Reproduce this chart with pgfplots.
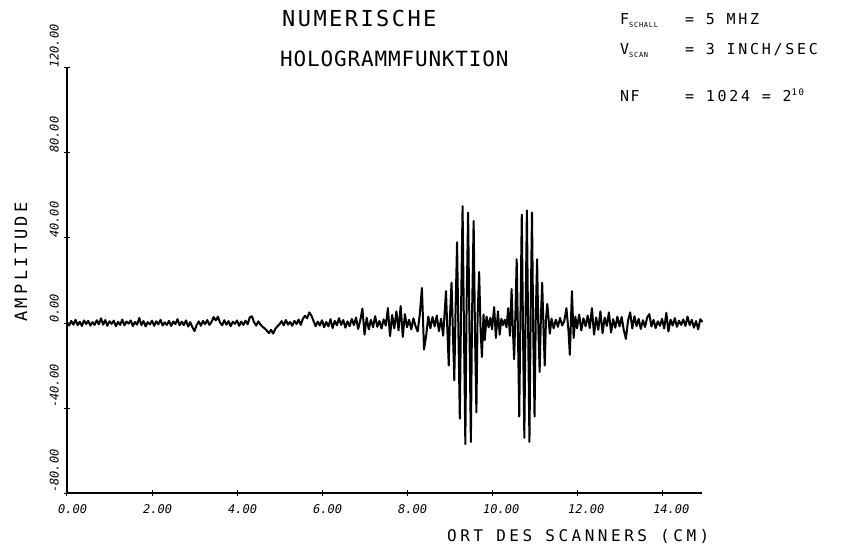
\documentclass[border=0pt]{standalone}
\usepackage{pgfplots}
\pgfplotsset{compat=1.18}
\usepackage{fontspec}
\setmainfont{DejaVu Sans Mono}
\newcommand{\fs}[1]{\fontsize{#1}{#1}\selectfont}
\newcommand{\ls}[1]{\addfontfeature{LetterSpace=#1}}
\begin{document}
\begin{tikzpicture}[x=1pt,y=1pt]
\path[use as bounding box] (0,0) rectangle (855,547);
\begin{axis}[
  at={(67pt,54pt)}, anchor=south west,
  width=635pt, height=425pt, scale only axis,
  xmin=0, xmax=14.94, ymin=-80, ymax=120,
  axis lines=left, axis line style={-, line width=1.4pt},
  xtick={0,2,...,14}, xticklabels={0.00,2.00,4.00,6.00,8.00,10.00,12.00,14.00},
  ytick={-80,-40,0,40,80,120}, yticklabels={-80.00,-40.00,0.00,40.00,80.00,120.00},
  tick align=center, tick style={line width=1pt, black}, major tick length=6pt,
  xticklabel style={font=\fs{12}\itshape, anchor=north west, xshift=-9pt, yshift=-8pt, inner sep=0pt},
  yticklabel style={font=\fs{12}\itshape, rotate=90, anchor=south west, inner sep=0pt},
  yticklabel shift=5pt,
  clip=false,
]
\addplot[line width=2pt, black, line join=round] coordinates {
(0.00,0.5)(0.05,-1.2)(0.10,1.0)(0.15,-0.8)(0.20,1.5)(0.25,-1.0)(0.30,0.6)(0.35,-1.4)(0.40,1.2)(0.45,-0.5)
(0.50,1.0)(0.55,-1.2)(0.60,0.4)(0.65,-0.9)(0.70,1.3)(0.75,-0.6)(0.80,2.2)(0.85,-0.8)(0.90,1.4)(0.95,-1.3)
(1.00,0.8)(1.05,-0.4)(1.10,1.1)(1.15,-1.5)(1.20,0.6)(1.25,-0.9)(1.30,1.6)(1.35,-1.1)(1.40,0.7)(1.45,-0.3)
(1.50,1.2)(1.55,-1.4)(1.60,0.5)(1.65,-0.8)(1.70,2.4)(1.75,-1.0)(1.80,0.9)(1.85,-1.6)(1.90,0.4)(1.95,-0.7)
(2.00,1.1)(2.05,-1.3)(2.10,0.8)(2.15,-0.6)(2.20,1.5)(2.25,-1.2)(2.30,0.3)(2.35,-0.9)(2.40,1.0)(2.45,-1.4)
(2.50,0.7)(2.55,-0.5)(2.60,1.8)(2.65,-1.1)(2.70,0.6)(2.75,-1.0)(2.80,1.2)(2.85,-1.7)(2.90,0.4)(2.95,-2.0)
(3.00,-3.8)(3.05,-1.0)(3.10,0.8)(3.15,-1.3)(3.20,1.0)(3.25,-0.6)(3.30,1.4)(3.35,-0.9)(3.40,0.5)(3.45,2.8)
(3.50,1.2)(3.55,3.0)(3.60,0.2)(3.65,-1.1)(3.70,1.3)(3.75,-0.8)(3.80,0.9)(3.85,-1.5)(3.90,0.6)(3.95,-0.4)
(4.00,1.2)(4.05,-1.3)(4.10,0.7)(4.15,-0.9)(4.20,1.1)(4.25,-0.6)(4.30,2.6)(4.35,3.2)(4.40,0.4)(4.45,-1.2)
(4.50,0.8)(4.55,-0.7)(4.60,-1.8)(4.65,-2.5)(4.70,-3.6)(4.75,-4.8)(4.80,-3.2)(4.85,-5.0)(4.90,-2.8)(4.95,-1.5)
(5.00,-0.6)(5.05,0.9)(5.10,-1.1)(5.15,1.4)(5.20,-0.8)(5.25,0.5)(5.30,-1.3)(5.35,1.0)(5.40,-0.5)(5.45,1.6)
(5.50,-0.9)(5.55,2.0)(5.60,3.4)(5.65,2.2)(5.70,5.0)(5.75,3.5)(5.80,1.0)(5.85,-1.5)(5.90,0.7)(5.95,-1.2)
(6.00,1.3)(6.05,-2.0)(6.10,0.5)(6.15,-1.6)(6.20,1.8)(6.25,-2.4)(6.30,1.0)(6.35,-1.1)(6.40,2.3)(6.45,-0.9)
(6.50,1.4)(6.55,-2.2)(6.60,0.8)(6.65,-1.5)(6.70,1.9)(6.75,-1.0)(6.80,2.6)(6.85,-2.8)(6.90,1.2)(6.95,6.8)
(7.00,-5.5)(7.05,2.5)(7.10,-3.0)(7.15,1.5)(7.20,-2.0)(7.25,3.2)(7.30,-1.8)(7.35,1.0)(7.40,-2.6)(7.45,1.7)
(7.50,-1.2)(7.55,7.0)(7.60,-6.2)(7.65,3.8)(7.70,-2.5)(7.75,5.5)(7.80,-3.5)(7.85,8.0)(7.90,-6.5)(7.95,4.2)
(8.00,-2.0)(8.05,1.5)(8.10,-3.0)(8.15,2.2)(8.20,-1.5)(8.25,-4.0)(8.30,4.0)(8.35,16.5)(8.40,-12.5)(8.45,-6.0)
(8.50,3.0)(8.55,-2.5)(8.60,2.8)(8.65,-1.6)(8.70,3.5)(8.75,-3.8)(8.80,2.0)(8.85,-6.0)
(8.917,15)(8.95,-4)(8.982,-20)(9.01,3)(9.047,19)(9.08,-5)(9.112,-27)(9.14,4)(9.177,38)(9.21,-6)(9.242,-45)(9.27,5)(9.307,55)(9.34,-4)(9.372,-57)
(9.40,6)(9.437,52)(9.47,-5)(9.502,-56)(9.53,4)(9.567,48)(9.60,-6)(9.632,-42)(9.66,3)(9.697,24)(9.73,-3)(9.762,-16)(9.80,4)
(9.83,-8)(9.87,3)(9.92,-2)(9.96,2.5)(10.00,-3)(10.05,7.5)(10.09,-7)(10.14,5.5)(10.18,-5.5)(10.22,2)
(10.26,-1)(10.30,1.5)(10.34,-2)(10.38,7)(10.42,-6)
(10.46,16)(10.49,-3)(10.52,-17)(10.55,4)(10.58,30)(10.61,-5)(10.64,-44)(10.67,6)(10.70,51)(10.73,-6)(10.76,-54)(10.79,5)(10.82,53)(10.85,-4)(10.88,-56)
(10.91,6)(10.94,52)(10.97,-5)(11.00,-44)(11.03,4)(11.06,30)(11.09,-3)(11.12,-23)(11.15,3)(11.18,19)(11.21,-2)(11.24,-20)(11.27,2)(11.30,9)(11.36,-5)
(11.40,2)(11.45,-2.5)(11.50,1.5)(11.55,-1.8)(11.60,2.4)(11.65,-1.2)(11.70,1.0)(11.75,7)(11.80,-4)(11.83,-15)
(11.88,15)(11.92,-7)(11.96,3)(12.00,-2.5)(12.05,4)(12.10,-3.5)(12.15,2.2)(12.20,-1.5)(12.25,3.5)(12.30,-2.4)
(12.35,7)(12.40,-5.5)(12.45,2.6)(12.50,-3.2)(12.55,5.5)(12.60,-4.8)(12.65,2.5)(12.70,-1.4)(12.75,5.0)(12.80,-4.5)
(12.85,1.8)(12.90,-2.2)(12.95,3.0)(13.00,-1.6)(13.05,2.8)(13.10,-3.4)(13.15,-7.5)(13.20,1.2)(13.25,5.0)(13.30,-2.6)
(13.35,3.2)(13.40,-1.5)(13.45,2.0)(13.50,-2.8)(13.55,1.3)(13.60,-1.9)(13.65,2.6)(13.70,4.2)(13.75,-1.6)(13.80,1.5)
(13.85,-2.4)(13.90,0.8)(13.95,-1.3)(14.00,2.0)(14.05,-2.6)(14.10,4.8)(14.15,-4.0)(14.20,1.6)(14.25,-1.2)(14.30,2.3)
(14.35,-1.8)(14.40,1.1)(14.45,-0.9)(14.50,1.7)(14.55,-1.4)(14.60,3.0)(14.65,-1.0)(14.70,1.5)(14.75,-2.2)(14.80,0.9)
(14.85,-3.0)(14.90,1.8)(14.95,0.5)
};
\end{axis}
% titles
\node[font=\fs{22}\ls{11}, anchor=base west, inner sep=0pt] at (282,520) {NUMERISCHE};
\node[font=\fs{21}\ls{4}, anchor=base west, inner sep=0pt] at (280,480) {HOLOGRAMMFUNKTION};
\node[font=\fs{17}\ls{20}, rotate=90, anchor=center] at (21,285) {AMPLITUDE};
\node[font=\fs{16}\ls{22}, anchor=base west, inner sep=0pt] at (447,6) {ORT DES SCANNERS (CM)};
% parameters
\node[font=\fs{15}\ls{10}, anchor=base west, inner sep=0pt] at (620,522) {F\raisebox{-3pt}{\fs{7}SCHALL}};
\node[font=\fs{15}\ls{18}, anchor=base west, inner sep=0pt] at (685,522) {= 5 MHZ};
\node[font=\fs{15}\ls{10}, anchor=base west, inner sep=0pt] at (620,492) {V\raisebox{-3pt}{\fs{7}SCAN}};
\node[font=\fs{15}\ls{18}, anchor=base west, inner sep=0pt] at (685,492) {= 3 INCH/SEC};
\node[font=\fs{15}\ls{10}, anchor=base west, inner sep=0pt] at (620,445) {NF};
\node[font=\fs{15}\ls{18}, anchor=base west, inner sep=0pt] at (685,445) {= 1024 = 2\raisebox{6pt}{\fs{9}10}};
\end{tikzpicture}
\end{document}
